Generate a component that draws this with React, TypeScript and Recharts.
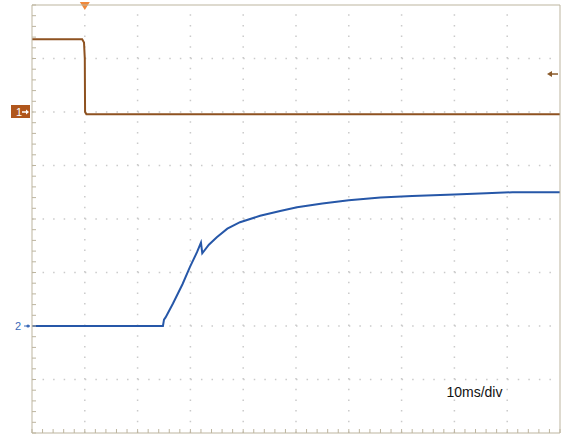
import React from "react"
import {
  LineChart, Line, XAxis, YAxis, ReferenceLine, ReferenceDot
} from "recharts"

// time in ms (10 ms/div, 10 divisions), level in divisions (0..8 from bottom)
const ch1Time = [0, 9.5, 9.85, 10.0, 10.05, 10.3, 100]
const ch1Level = [7.36, 7.36, 7.3, 7.0, 6.0, 5.96, 5.96]

const ch2Time = [
  0, 24.8, 25.0, 25.3, 26.7, 28.5, 29.9, 31.25, 32.0, 32.25, 33.5, 35.0,
  37.0, 39.4, 43.2, 47.0, 50.2, 55, 60, 66, 72, 80, 86, 91, 100,
]
const ch2Level = [
  2.0, 2.0, 2.12, 2.16, 2.42, 2.78, 3.1, 3.38, 3.56, 3.36, 3.52, 3.66,
  3.82, 3.94, 4.06, 4.15, 4.22, 4.29, 4.35, 4.4, 4.43, 4.46, 4.48, 4.5, 4.5,
]

const majorT = [0, 10, 20, 30, 40, 50, 60, 70, 80, 90, 100]
const majorV = [0, 1, 2, 3, 4, 5, 6, 7, 8]
const minorT = Array.from({ length: 51 }, (_, i) => i * 2)
const minorV = Array.from({ length: 41 }, (_, i) => Math.round(i * 2) / 10)

const ch1Ref = 6
const ch2Ref = 2
const triggerTime = 10
const triggerLevel = 6.71
const scaleNote = "10ms/div"

const ch1Data = ch1Time.map((t, i) => ({ t, v: ch1Level[i] }))
const ch2Data = ch2Time.map((t, i) => ({ t, v: ch2Level[i] }))

const FRAME = "#bdb59f"
const DOTS = "#cacaca"
const CH1 = "#8e5220"
const CH2 = "#2657a8"
const FONT = "'Liberation Sans', Arial, sans-serif"

const Ch1Marker = ({ viewBox }: any) => {
  const { x, y } = viewBox
  return (
    <g>
      <rect x={x - 21} y={y - 7} width={19} height={13} fill="#b0561c" />
      <text x={x - 16} y={y + 4} fill="#fff" fontSize={11} fontFamily={FONT}>1</text>
      <line x1={x - 10} y1={y} x2={x - 5} y2={y} stroke="#fff" strokeWidth={1.5} />
      <path d={`M${x - 6},${y - 2.5} L${x - 3},${y} L${x - 6},${y + 2.5} Z`} fill="#fff" />
    </g>
  )
}

const Ch2Marker = ({ viewBox }: any) => {
  const { x, y } = viewBox
  return (
    <g>
      <text x={x - 17} y={y + 4} fill="#3a6ab8" fontSize={11} fontFamily={FONT}>2</text>
      <circle cx={x - 4} cy={y} r={1.6} fill="#3a6ab8" />
      <line x1={x - 8} y1={y} x2={x - 2} y2={y} stroke="#3a6ab8" strokeWidth={1} />
    </g>
  )
}

const TriggerMarker = ({ viewBox }: any) => {
  const { x, y } = viewBox
  return <path d={`M${x - 5},${y - 3} L${x + 5},${y - 3} L${x},${y + 5} Z`} fill="#f0883a" />
}

const LevelMarker = ({ viewBox }: any) => {
  const { x, y, width } = viewBox
  const r = x + width - 2
  return (
    <g>
      <line x1={r - 9} y1={y} x2={r} y2={y} stroke="#8a5a2a" strokeWidth={1.5} />
      <path d={`M${r - 11},${y} L${r - 6},${y - 3} L${r - 6},${y + 3} Z`} fill="#8a5a2a" />
    </g>
  )
}

export default function App() {
  return (
    <div style={{ position: "absolute", left: 0, top: 0, width: 570, height: 435, background: "#fff" }}>
      <LineChart width={570} height={435} margin={{ top: 5, right: 10, bottom: 2, left: 32 }}>
        <XAxis xAxisId="b" type="number" dataKey="t" domain={[0, 100]} ticks={minorT}
          orientation="bottom" mirror tickSize={4} tickFormatter={() => ""}
          stroke={FRAME} allowDataOverflow />
        <XAxis xAxisId="t" type="number" domain={[0, 100]} ticks={minorT}
          orientation="top" mirror tickSize={4} tickFormatter={() => ""} stroke={FRAME} />
        <XAxis xAxisId="bM" type="number" domain={[0, 100]} ticks={majorT}
          orientation="bottom" mirror tickSize={7} axisLine={false} tickFormatter={() => ""} stroke={FRAME} />
        <XAxis xAxisId="tM" type="number" domain={[0, 100]} ticks={majorT}
          orientation="top" mirror tickSize={7} axisLine={false} tickFormatter={() => ""} stroke={FRAME} />
        <YAxis yAxisId="l" type="number" domain={[0, 8]} ticks={minorV}
          orientation="left" mirror tickSize={4} tickFormatter={() => ""} stroke={FRAME} allowDataOverflow />
        <YAxis yAxisId="r" type="number" domain={[0, 8]} ticks={minorV}
          orientation="right" mirror tickSize={4} tickFormatter={() => ""} stroke={FRAME} />

        {majorT.slice(1, -1).map((t) => (
          <ReferenceLine key={"gx" + t} xAxisId="b" yAxisId="l" x={t}
            stroke={DOTS} strokeWidth={1.5} strokeDasharray="1.5 9.2" />
        ))}
        {majorV.slice(1, -1).map((v) => (
          <ReferenceLine key={"gy" + v} xAxisId="b" yAxisId="l" y={v}
            stroke={DOTS} strokeWidth={1.5} strokeDasharray="1.5 9.06" />
        ))}

        <ReferenceLine xAxisId="b" yAxisId="l" y={ch1Ref} stroke="none" label={Ch1Marker} />
        <ReferenceLine xAxisId="b" yAxisId="l" y={ch2Ref} stroke="none" label={Ch2Marker} />
        <ReferenceLine xAxisId="b" yAxisId="l" x={triggerTime} stroke="none" label={TriggerMarker} />
        <ReferenceLine xAxisId="b" yAxisId="l" y={triggerLevel} stroke="none" label={LevelMarker} />

        <Line xAxisId="b" yAxisId="l" data={ch1Data} dataKey="v" type="linear"
          stroke={CH1} strokeWidth={2} dot={false} isAnimationActive={false} />
        <Line xAxisId="b" yAxisId="l" data={ch2Data} dataKey="v" type="linear"
          stroke={CH2} strokeWidth={2} dot={false} isAnimationActive={false} />

        <ReferenceDot xAxisId="b" yAxisId="l" x={83.8} y={0.76} r={0} stroke="none"
          label={{ value: scaleNote, position: "center", fill: "#111", fontSize: 14, fontFamily: FONT }} />
      </LineChart>
    </div>
  )
}
